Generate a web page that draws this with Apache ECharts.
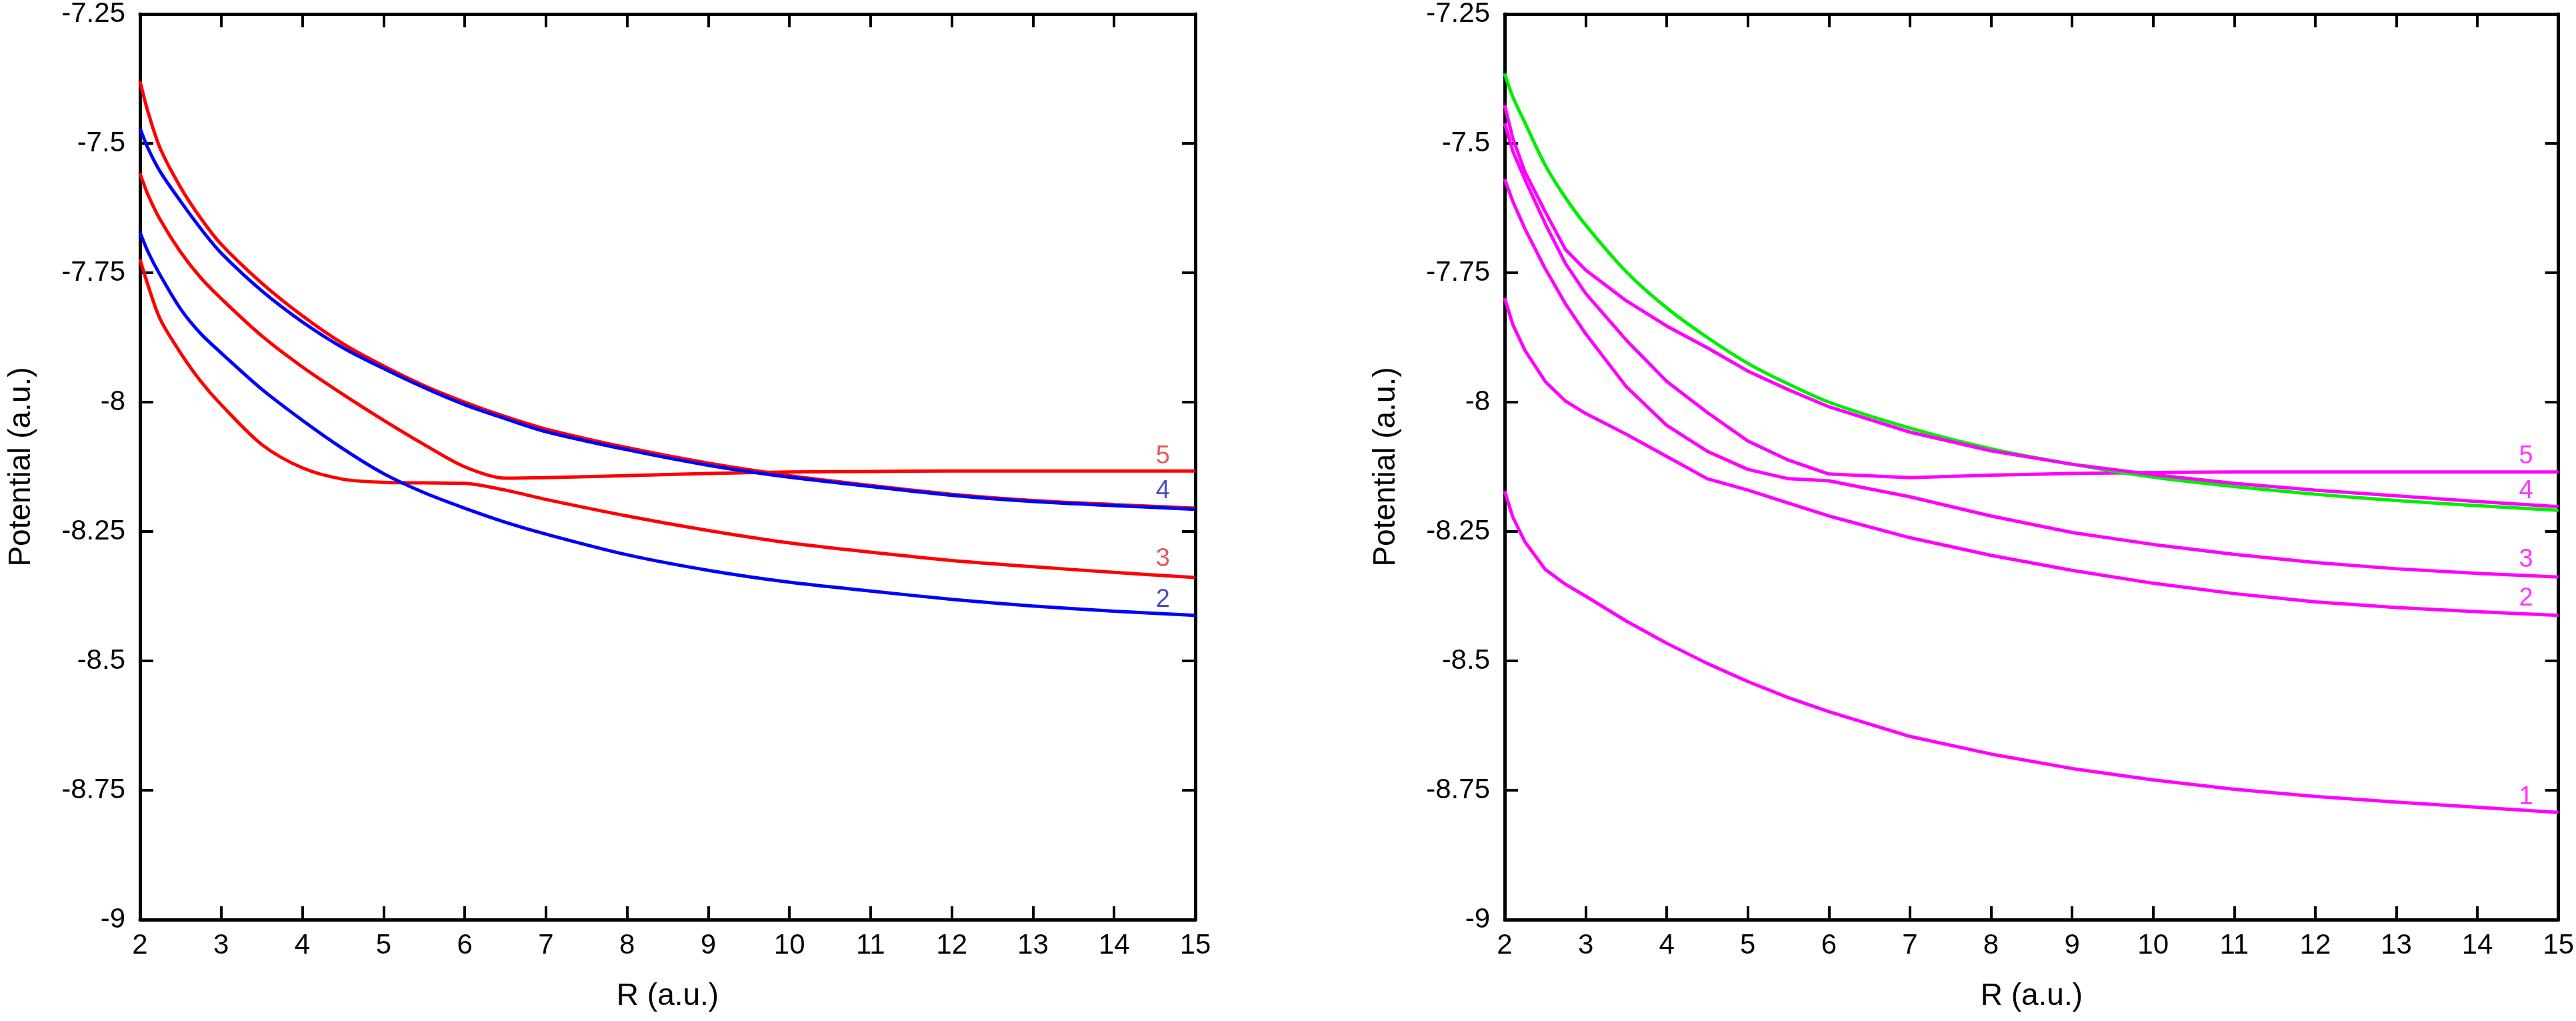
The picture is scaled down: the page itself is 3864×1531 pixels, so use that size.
<!DOCTYPE html>
<html>
<head>
<meta charset="utf-8">
<script src="https://cdn.jsdelivr.net/npm/echarts@6/dist/echarts.min.js"></script>
<style>
  html, body { margin: 0; padding: 0; background: #fff; }
  #chart { width: 3864px; height: 1531px; }
</style>
</head>
<body>
<div id="chart"></div>
<script>
// left panel: R grid and curves
var xLeft = [2, 2.1, 2.25, 2.5, 2.75, 3, 3.5, 4, 4.5, 5, 5.5, 6, 6.5, 7, 8, 9, 10, 11, 12, 13, 14, 15];
var leftRedTop = [-7.38, -7.44, -7.51, -7.585, -7.645, -7.695, -7.77, -7.833, -7.887, -7.93, -7.968, -8.0, -8.028, -8.052, -8.088, -8.118, -8.142, -8.161, -8.178, -8.19, -8.198, -8.205];
var leftBlue4 = [-7.471, -7.51, -7.555, -7.612, -7.665, -7.712, -7.785, -7.845, -7.895, -7.935, -7.972, -8.005, -8.032, -8.057, -8.092, -8.122, -8.145, -8.163, -8.18, -8.192, -8.2, -8.207];
var leftRed5 = [-7.558, -7.6, -7.648, -7.71, -7.76, -7.8, -7.872, -7.932, -7.985, -8.035, -8.082, -8.125, -8.147, -8.146, -8.142, -8.138, -8.135, -8.134, -8.133, -8.133, -8.133, -8.133];
var leftRed3 = [-7.724, -7.775, -7.84, -7.905, -7.96, -8.005, -8.082, -8.127, -8.149, -8.155, -8.156, -8.157, -8.17, -8.188, -8.22, -8.248, -8.272, -8.29, -8.306, -8.318, -8.329, -8.339];
var leftBlue2 = [-7.672, -7.71, -7.755, -7.82, -7.868, -7.905, -7.975, -8.035, -8.09, -8.138, -8.175, -8.205, -8.232, -8.255, -8.295, -8.325, -8.348, -8.365, -8.381, -8.394, -8.404, -8.412];

// right panel
var xRight = [2, 2.1, 2.25, 2.5, 2.75, 3, 3.5, 4, 4.5, 5, 5.5, 6, 7, 8, 9, 10, 11, 12, 13, 14, 15];
var rightGreen = [-7.365, -7.41, -7.46, -7.542, -7.605, -7.658, -7.748, -7.818, -7.875, -7.925, -7.965, -8.0, -8.05, -8.09, -8.12, -8.145, -8.163, -8.178, -8.19, -8.2, -8.209];
var rightMag4 = [-7.426, -7.49, -7.555, -7.632, -7.705, -7.745, -7.804, -7.853, -7.895, -7.94, -7.976, -8.009, -8.058, -8.094, -8.12, -8.14, -8.157, -8.17, -8.181, -8.192, -8.202];
var rightMag5 = [-7.461, -7.515, -7.57, -7.655, -7.732, -7.79, -7.88, -7.96, -8.02, -8.075, -8.112, -8.139, -8.146, -8.141, -8.138, -8.136, -8.135, -8.135, -8.135, -8.135, -8.135];
var rightMag3 = [-7.569, -7.612, -7.665, -7.742, -7.81, -7.868, -7.97, -8.045, -8.095, -8.13, -8.148, -8.152, -8.183, -8.22, -8.252, -8.275, -8.294, -8.31, -8.322, -8.331, -8.338];
var rightMag2 = [-7.799, -7.85, -7.9, -7.96, -7.998, -8.022, -8.062, -8.105, -8.148, -8.17, -8.195, -8.22, -8.262, -8.296, -8.325, -8.35, -8.37, -8.386, -8.397, -8.405, -8.412];
var rightMag1 = [-8.172, -8.222, -8.27, -8.323, -8.352, -8.375, -8.423, -8.466, -8.505, -8.54, -8.571, -8.598, -8.646, -8.68, -8.708, -8.73, -8.748, -8.762, -8.773, -8.783, -8.793];

// curve number labels
var labelX = 14.6;
var leftLabels = ["5", "4", "3", "2"];
var leftLabelY = [-8.105, -8.172, -8.304, -8.382];
var rightLabels = ["5", "4", "3", "2", "1"];
var rightLabelY = [-8.105, -8.172, -8.305, -8.379, -8.764];

var FONT = "'Liberation Sans', Arial, Helvetica, sans-serif";
var RED = "#ff0000", BLUE = "#0000ff", MAG = "#ff00ff", GREEN = "#00ee00";

function pairs(xs, ys) {
  return xs.map(function (x, i) { return [x, ys[i]]; });
}

function xAxisFor(grid, top) {
  return {
    type: "value", gridIndex: grid, min: 2, max: 15, interval: 1,
    position: top ? "top" : "bottom",
    name: top ? "" : "R (a.u.)",
    nameLocation: "middle", nameGap: 92,
    nameTextStyle: { fontSize: 46, fontFamily: FONT, color: "#000" },
    axisLine: { show: true, onZero: false, lineStyle: { color: "#000", width: 5 } },
    axisTick: { show: true, inside: true, length: 20, lineStyle: { color: "#000", width: 4 } },
    axisLabel: { show: !top, fontSize: 42, fontFamily: FONT, color: "#000", margin: 18 },
    splitLine: { show: false },
  };
}

function yAxisFor(grid, right) {
  return {
    type: "value", gridIndex: grid, min: -9, max: -7.25, interval: 0.25,
    position: right ? "right" : "left",
    name: right ? "" : "Potential (a.u.)",
    nameLocation: "middle", nameGap: 155,
    nameTextStyle: { fontSize: 46, fontFamily: FONT, color: "#000" },
    axisLine: { show: true, onZero: false, lineStyle: { color: "#000", width: 5 } },
    axisTick: { show: true, inside: true, length: 20, lineStyle: { color: "#000", width: 4 } },
    axisLabel: { show: !right, fontSize: 42, fontFamily: FONT, color: "#000", margin: 22 },
    splitLine: { show: false },
  };
}

function lineSeries(grid, xs, ys, color, smooth) {
  return {
    type: "line", xAxisIndex: grid * 2, yAxisIndex: grid * 2,
    data: pairs(xs, ys), symbol: "none", smooth: smooth,
    lineStyle: { color: color, width: 5 }, silent: true,
  };
}

function labelSeries(grid, names, ys, colors) {
  return {
    type: "scatter", xAxisIndex: grid * 2, yAxisIndex: grid * 2,
    symbolSize: 1, itemStyle: { color: "rgba(0,0,0,0)" },
    data: names.map(function (n, i) {
      return {
        value: [labelX, ys[i]], name: n,
        label: { show: true, position: "inside", formatter: n, fontSize: 38, fontFamily: FONT, color: colors[i] },
      };
    }),
  };
}

var myChart = echarts.init(document.getElementById("chart"));

var option = {
  animation: false,
  backgroundColor: "#fff",
  grid: [
    { left: 210, right: 2071, top: 20, bottom: 152 },
    { left: 2257, right: 24, top: 20, bottom: 152 },
  ],
  xAxis: [xAxisFor(0, false), xAxisFor(0, true), xAxisFor(1, false), xAxisFor(1, true)],
  yAxis: [yAxisFor(0, false), yAxisFor(0, true), yAxisFor(1, false), yAxisFor(1, true)],
  series: [
    lineSeries(0, xLeft, leftRedTop, RED, 0.3),
    lineSeries(0, xLeft, leftRed5, RED, 0.3),
    lineSeries(0, xLeft, leftRed3, RED, 0.3),
    lineSeries(0, xLeft, leftBlue4, BLUE, 0.3),
    lineSeries(0, xLeft, leftBlue2, BLUE, 0.3),
    labelSeries(0, leftLabels, leftLabelY, ["#e02a2a", "#1c1cb4", "#e02a2a", "#1c1cb4"]),
    lineSeries(1, xRight, rightMag5, MAG, false),
    lineSeries(1, xRight, rightMag3, MAG, false),
    lineSeries(1, xRight, rightMag2, MAG, false),
    lineSeries(1, xRight, rightMag1, MAG, false),
    lineSeries(1, xRight, rightGreen, GREEN, 0.3),
    lineSeries(1, xRight, rightMag4, MAG, false),
    labelSeries(1, rightLabels, rightLabelY, [MAG, MAG, MAG, MAG, MAG]),
  ],
};

myChart.setOption(option);
</script>
</body>
</html>
